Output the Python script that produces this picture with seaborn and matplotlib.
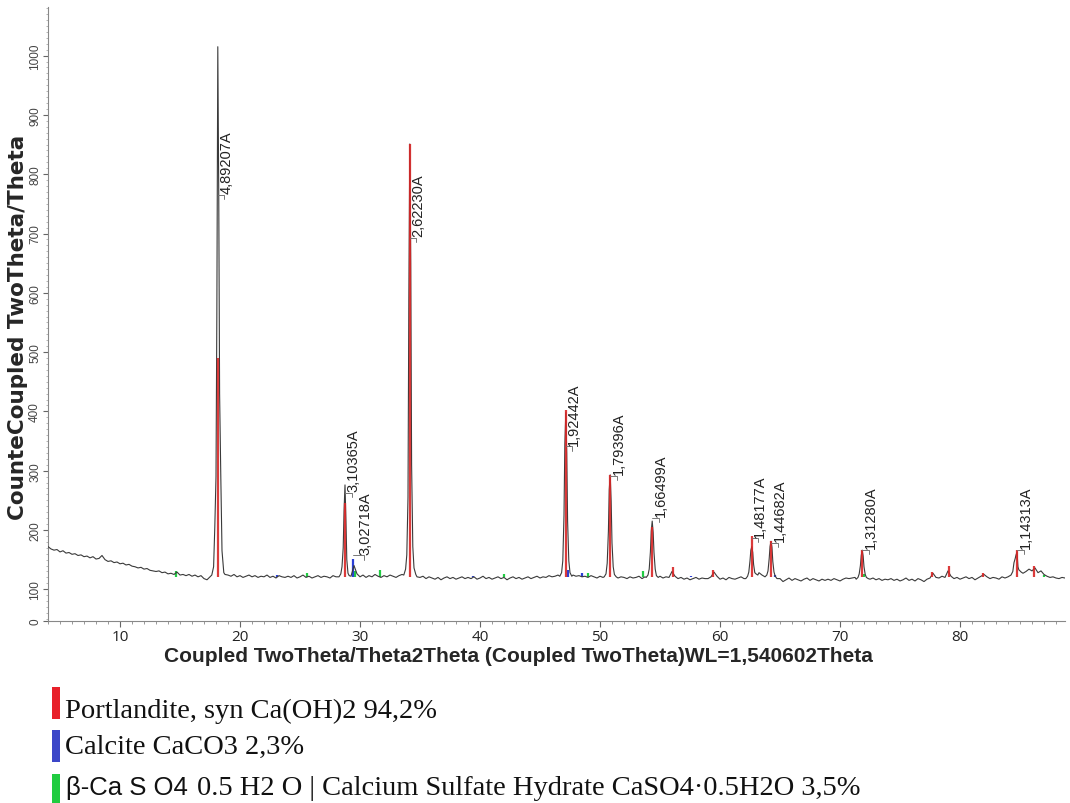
import numpy as np
import pandas as pd
import matplotlib
matplotlib.use('Agg')
import matplotlib.pyplot as plt
from matplotlib.ticker import MultipleLocator
from matplotlib.patches import Rectangle
import seaborn as sns

sns.set_style('ticks')
plt.rcParams['font.family'] = ['Liberation Sans', 'DejaVu Sans']

# scan background, 0.25 deg steps from 4.0 deg
scan_start = 4.0
scan_step = 0.25
background = [
    172, 168, 166, 167, 163, 165, 161, 162, 159, 160, 157, 158, 155, 156, 153, 155, 151, 152, 157, 150,
    147, 148, 145, 146, 143, 144, 141, 142, 139, 138, 136, 137, 134, 135, 132, 131, 130, 131, 128, 129,
    126, 127, 125, 129, 124, 125, 123, 125, 122, 124, 121, 123, 118, 116, 121, 124, 124, 124, 124, 125,
    124, 122, 125, 121, 123, 120, 122, 124, 121, 123, 120, 122, 121, 124, 120, 122, 119, 123, 121, 120,
    122, 120, 123, 119, 121, 124, 120, 122, 119, 121, 123, 120, 122, 121, 119, 123, 121, 120, 124, 122,
    123, 121, 140, 126, 121, 124, 120, 123, 121, 125, 122, 120, 123, 121, 124, 122, 120, 123, 125, 124,
    124, 123, 125, 121, 120, 122, 118, 121, 119, 117, 120, 116, 119, 121, 118, 120, 117, 119, 121, 118,
    120, 118, 121, 117, 119, 122, 118, 120, 117, 119, 121, 118, 120, 116, 119, 121, 118, 120, 117, 119,
    121, 118, 120, 122, 119, 121, 120, 123, 121, 122, 124, 122, 123, 122, 121, 124, 122, 123, 121, 122,
    120, 123, 121, 119, 122, 120, 121, 121, 121, 122, 119, 121, 120, 118, 121, 119, 120, 122, 118, 121,
    120, 121, 121, 123, 122, 119, 121, 120, 130, 122, 118, 120, 117, 119, 116, 118, 120, 117, 119, 118,
    118, 121, 129, 122, 117, 119, 116, 120, 118, 117, 119, 121, 118, 120, 122, 121, 121, 128, 124, 122,
    122, 122, 122, 120, 118, 113, 116, 119, 115, 118, 116, 114, 117, 119, 115, 118, 116, 114, 117, 115,
    117, 115, 118, 116, 114, 117, 119, 118, 119, 120, 121, 120, 123, 118, 117, 119, 116, 118, 115, 117,
    116, 118, 115, 117, 114, 116, 119, 115, 117, 114, 118, 116, 113, 117, 119, 127, 120, 119, 122, 120,
    131, 122, 118, 120, 117, 119, 121, 118, 120, 116, 119, 122, 125, 121, 118, 120, 119, 117, 121, 119,
    121, 124, 135, 150, 160, 166, 130, 134, 131, 136, 128, 131, 125, 122, 120, 121, 119, 118, 120, 119,
]

# peak shapes: counts at fixed offsets (deg) around each peak centre
peak_centers = [18.15, 28.75, 34.15, 47.15, 50.85, 54.35, 62.65, 64.25, 71.85, 84.75]
peak_offsets = [-0.5, -0.35, -0.25, -0.15, -0.08, 0, 0.08, 0.15, 0.25, 0.35, 0.5]
peak_profiles = [
    [124, 138, 205, 290, 560, 1015, 760, 430, 290, 165, 128],
    [121, 126, 138, 170, 232, 276, 215, 150, 127, 123, 122],
    [124, 134, 158, 255, 590, 851, 650, 310, 172, 136, 125],
    [122, 128, 148, 225, 345, 398, 330, 215, 148, 128, 122],
    [121, 126, 144, 198, 268, 293, 248, 178, 138, 125, 121],
    [120, 124, 134, 163, 198, 215, 196, 162, 134, 123, 120],
    [118, 122, 129, 148, 166, 172, 162, 142, 128, 126, 124],
    [121, 124, 131, 152, 172, 181, 171, 147, 129, 122, 118],
    [117, 120, 126, 140, 157, 166, 156, 138, 125, 120, 118],
    [124, 130, 145, 152, 158, 163, 138, 133, 131, 129, 127],
]

# d-spacing labels
label_2theta = [18.15, 28.75, 29.4, 34.15, 47.15, 50.85, 54.35, 62.65, 64.25, 71.85, 84.75]
label_counts = [765, 262, 157, 693, 341, 291, 220, 186, 178, 166, 166]
label_text = ['4,89207A', '3,10365A', '3,02718A', '2,62230A', '1,92442A', '1,79396A',
              '1,66499A', '1,48177A', '1,44682A', '1,31280A', '1,14313A']

# reference pattern sticks
stick_base = 121
red_2theta = [18.15, 28.75, 34.15, 47.15, 50.85, 54.35, 56.1, 59.45, 62.65, 64.25,
              71.85, 77.7, 79.1, 81.9, 84.75, 86.2]
red_top = [490, 245, 851, 403, 293, 205, 137, 132, 190, 181, 166, 129, 139, 127, 166, 140]
blue_2theta = [23.1, 29.4, 39.4, 47.35, 48.5, 57.6, 64.6]
blue_top = [124, 151, 123, 132, 127, 123, 124]
green_2theta = [14.7, 25.6, 29.55, 31.7, 42.0, 49.0, 53.6, 72.0, 87.0]
green_top = [131, 128, 130, 133, 126, 127, 130, 125, 124]

legend_names = ['Portlandite, syn Ca(OH)2 94,2%', 'Calcite CaCO3 2,3%',
                '0.5 H2 O | Calcium Sulfate Hydrate CaSO4\u00b70.5H2O 3,5%']
legend_prefix = '\u03b2-Ca S O4 '
legend_colors = ['#e8202a', '#3c46c8', '#20cc40']

# build the scan table
bg_x = scan_start + scan_step * np.arange(len(background))
bg_y = np.array(background, dtype=float)
keep = np.ones(len(bg_x), dtype=bool)
for c in peak_centers:
    keep &= np.abs(bg_x - c) > 0.52
xs = [bg_x[keep]]
ys = [bg_y[keep]]
for c, prof in zip(peak_centers, peak_profiles):
    xs.append(c + np.array(peak_offsets))
    ys.append(np.array(prof, dtype=float))
scan = pd.DataFrame({'two_theta': np.concatenate(xs), 'counts': np.concatenate(ys)})
scan = scan.sort_values('two_theta')

W, H = 1070, 804
fig = plt.figure(figsize=(W / 100, H / 100), dpi=100)
ax = fig.add_axes([48 / W, 1 - 622 / H, (1065 - 48) / W, (622 - 8) / H])

ax.vlines(green_2theta, stick_base, green_top, color='#22cc44', lw=1.6, zorder=2)
ax.vlines(blue_2theta, stick_base, blue_top, color='#2b3fd6', lw=1.6, zorder=2)
sns.lineplot(data=scan, x='two_theta', y='counts', ax=ax, color='#3a3a3a',
             linewidth=0.8, estimator=None, sort=True, zorder=3)
ax.vlines(red_2theta, stick_base, red_top, color='#d82626', lw=1.6, alpha=0.9, zorder=4)

for x, y, t in zip(label_2theta, label_counts, label_text):
    dx = 1.05 if t == '3,02718A' else 0.7
    ax.plot([x, x + dx - 0.15, x + dx - 0.15], [y, y, y - 7], color='#777777', lw=0.7, zorder=5)
    ax.text(x + dx, y + 3, t, rotation=90, ha='center', va='bottom', fontsize=10.5,
            color='#222222', zorder=6)

ax.set_xlim(4.0, 88.75)
ax.set_ylim(46.5, 1082)
ax.xaxis.set_major_locator(MultipleLocator(10))
ax.xaxis.set_minor_locator(MultipleLocator(1))
ytick_pos = [46.5] + list(range(100, 1001, 100))
ax.set_yticks(ytick_pos)
ax.set_yticklabels(['0'] + [str(v) for v in range(100, 1001, 100)], rotation=90, va='center')
ax.yaxis.set_minor_locator(MultipleLocator(10))

ax.tick_params(axis='x', which='major', length=4, width=0.8, color='#666666',
               labelsize=11, labelcolor='#222222', pad=2)
ax.tick_params(axis='x', which='minor', length=2.5, width=0.6, color='#888888')
ax.tick_params(axis='y', which='major', length=3.5, width=0.8, color='#666666',
               labelsize=8.5, labelcolor='#444444', pad=1.5)
ax.tick_params(axis='y', which='minor', length=1.5, width=0.5, color='#999999')
for lbl in ax.get_xticklabels():
    lbl.set_family(['Open Sans', 'DejaVu Sans'])

sns.despine(ax=ax)
for side in ['left', 'bottom']:
    ax.spines[side].set_color('#888888')
    ax.spines[side].set_linewidth(0.8)

ax.set_ylabel('CounteCoupled TwoTheta/Theta', fontsize=15.5, fontweight='bold',
              family='DejaVu Sans')
ax.yaxis.label.set_va('center')
ax.yaxis.set_label_coords((18 - 48) / 1017, 0.48)
ax.set_xlabel('Coupled TwoTheta/Theta2Theta (Coupled TwoTheta)WL=1,540602Theta',
              fontsize=15, fontweight='bold', family='Liberation Sans')
ax.xaxis.label.set_va('center')
ax.xaxis.set_label_coords((518 - 48) / 1017, (622 - 657) / 614)

# phase legend below the chart
bar_tops = [688, 731, 775]
bar_bottoms = [720, 763, 804]
baselines = [718, 754, 795]
for i, col in enumerate(legend_colors):
    fig.add_artist(Rectangle((52 / W, 1 - bar_bottoms[i] / H), 8 / W,
                             (bar_bottoms[i] - bar_tops[i]) / H,
                             transform=fig.transFigure, color=col, lw=0))
fig.text(65 / W, 1 - baselines[0] / H, legend_names[0], fontsize=20.5,
         family='Liberation Serif', va='baseline', color='#111111')
fig.text(65 / W, 1 - baselines[1] / H, legend_names[1], fontsize=20.5,
         family='Liberation Serif', va='baseline', color='#111111')
fig.text(66 / W, 1 - baselines[2] / H, legend_prefix, fontsize=18.5,
         family=['Liberation Sans', 'DejaVu Sans'], va='baseline', color='#111111')
fig.text(197 / W, 1 - baselines[2] / H, legend_names[2], fontsize=20.5,
         family='Liberation Serif', va='baseline', color='#111111')

fig.savefig('out.png', dpi=100, facecolor='white')
